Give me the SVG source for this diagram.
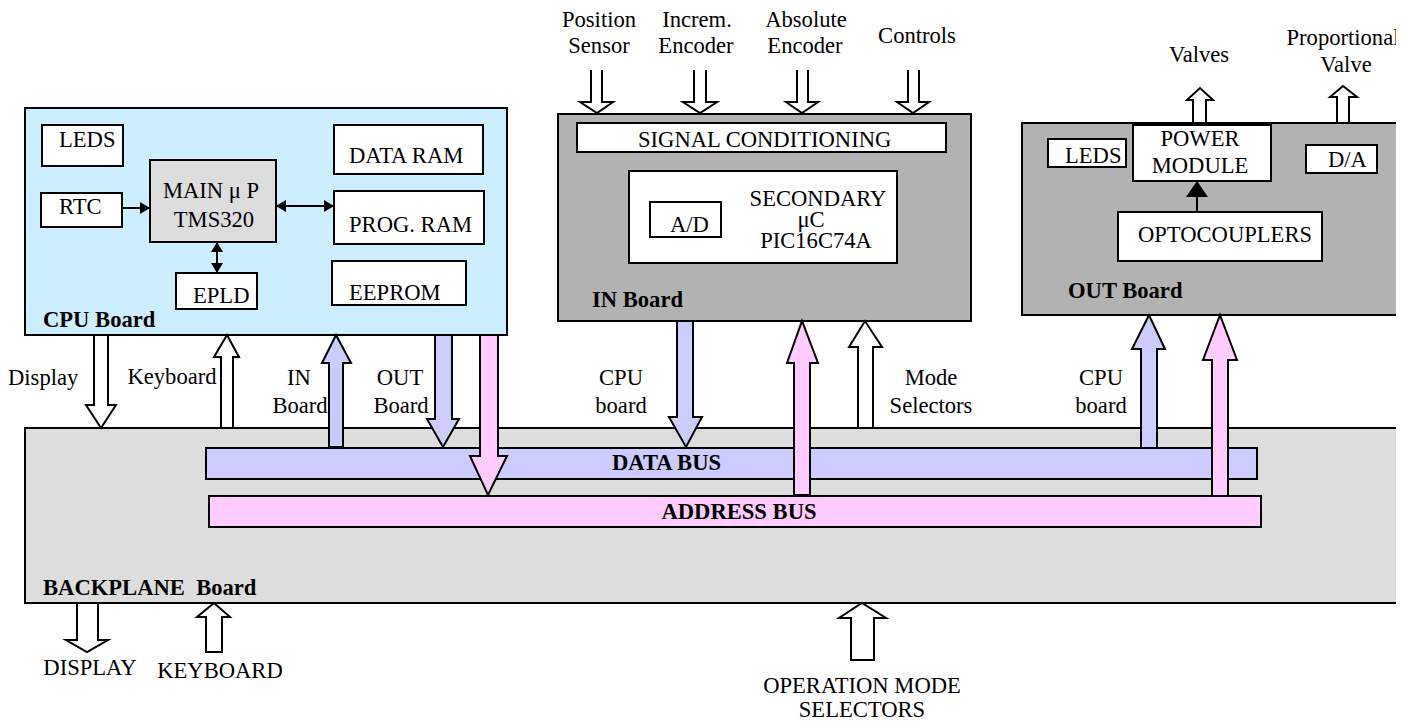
<svg xmlns="http://www.w3.org/2000/svg" width="1410" height="725" viewBox="0 0 1410 725">
<style>
text{font-family:"Liberation Serif","Times New Roman",serif;font-size:22.6px;fill:#000}
.b{font-weight:bold}
.m{text-anchor:middle}
.box{stroke:#000;stroke-width:2}
.w{fill:#fff}
.arr{stroke:#000;stroke-width:2;stroke-linejoin:miter}
.blue{fill:#ccccff}
.pink{fill:#ffccff}
.line{stroke:#000;stroke-width:2;fill:none}
</style>
<defs>
<clipPath id="clip"><rect x="0" y="0" width="1396" height="725"/></clipPath>
<marker id="ah" viewBox="0 0 10 12" refX="10" refY="6" markerWidth="10" markerHeight="12" markerUnits="userSpaceOnUse" orient="auto-start-reverse"><path d="M0,0 L10,6 L0,12 Z" fill="#000"/></marker>
<marker id="ahL" viewBox="0 0 16 22" refX="16" refY="11" markerWidth="16" markerHeight="22" markerUnits="userSpaceOnUse" orient="auto"><path d="M0,0 L16,11 L0,22 Z" fill="#000"/></marker>
</defs>
<g clip-path="url(#clip)">
<!-- Backplane -->
<g id="backplane">
<rect class="box" x="25" y="428" width="1400" height="175" fill="#dddddd"/>
<text class="b" x="43" y="595" style="white-space:pre">BACKPLANE  Board</text>
</g>
<g id="data-bus">
<rect class="box" x="206" y="448" width="1051" height="31" fill="#ccccff"/>
<text class="b" x="612" y="470">DATA BUS</text>
</g>
<g id="address-bus">
<rect class="box" x="209" y="496" width="1052" height="31" fill="#ffccff"/>
<text class="b m" x="739" y="519">ADDRESS BUS</text>
</g>
<!-- CPU Board -->
<g id="cpu-board">
<rect class="box" x="25" y="108" width="482" height="227" fill="#cceeff"/>
<text class="b" x="43" y="327">CPU Board</text>
</g>
<g id="cpu-leds"><rect class="box w" x="42" y="125" width="81" height="41"/><text x="59" y="147">LEDS</text></g>
<g id="rtc"><rect class="box w" x="41" y="193" width="81" height="34"/><text x="59" y="214">RTC</text></g>
<g id="main-up"><rect class="box" x="150" y="160" width="126" height="82" fill="#dddddd"/><text class="m" x="211" y="198">MAIN μ P</text><text class="m" x="214" y="227">TMS320</text></g>
<g id="data-ram"><rect class="box w" x="334" y="125" width="149" height="49"/><text x="349" y="163">DATA RAM</text></g>
<g id="prog-ram"><rect class="box w" x="334" y="191" width="150" height="53"/><text x="349" y="232">PROG. RAM</text></g>
<g id="eeprom"><rect class="box w" x="332" y="261" width="134" height="44"/><text x="349" y="300">EEPROM</text></g>
<g id="epld"><rect class="box w" x="176" y="273" width="81" height="36"/><text x="193" y="303">EPLD</text></g>
<!-- IN Board -->
<g id="in-board">
<rect class="box" x="558" y="114" width="413" height="207" fill="#b2b2b2"/>
<text class="b" x="592" y="307">IN Board</text>
</g>
<g id="signal-conditioning"><rect class="box w" x="577" y="123" width="369" height="29"/><text x="638" y="147">SIGNAL CONDITIONING</text></g>
<g id="secondary-uc"><rect class="box w" x="629" y="171" width="268" height="92"/>
<text class="m" x="818" y="206">SECONDARY</text><text class="m" x="811" y="227">μC</text><text class="m" x="816" y="248">PIC16C74A</text></g>
<g id="ad"><rect class="box w" x="650" y="202" width="71" height="35"/><text x="670" y="232">A/D</text></g>
<!-- OUT Board -->
<g id="out-board">
<rect class="box" x="1022" y="123" width="400" height="192" fill="#b2b2b2"/>
<text class="b" x="1068" y="298">OUT Board</text>
</g>
<g id="out-leds"><rect class="box w" x="1048" y="139" width="78" height="28"/><text x="1065" y="163">LEDS</text></g>
<g id="power-module"><rect class="box w" x="1133" y="125" width="138" height="56"/><text class="m" x="1200" y="146">POWER</text><text class="m" x="1200" y="173">MODULE</text></g>
<g id="da"><rect class="box w" x="1306" y="145" width="71" height="28"/><text x="1328" y="167">D/A</text></g>
<g id="optocouplers"><rect class="box w" x="1118" y="212" width="204" height="49"/><text class="m" x="1225" y="242">OPTOCOUPLERS</text></g>
<!-- External labels -->
<g id="labels">
<text class="m" x="599" y="27">Position</text><text class="m" x="599" y="53">Sensor</text>
<text class="m" x="697" y="27">Increm.</text><text class="m" x="696" y="53">Encoder</text>
<text class="m" x="806" y="27">Absolute</text><text class="m" x="805" y="53">Encoder</text>
<text class="m" x="917" y="43">Controls</text>
<text class="m" x="1199" y="62">Valves</text>
<text class="m" x="1343" y="45">Proportional</text><text class="m" x="1346" y="72">Valve</text>
<text x="8" y="385">Display</text>
<text class="m" x="172" y="384">Keyboard</text>
<text class="m" x="299" y="385">IN</text><text class="m" x="300" y="413">Board</text>
<text class="m" x="400" y="385">OUT</text><text class="m" x="401" y="413">Board</text>
<text class="m" x="621" y="385">CPU</text><text class="m" x="621" y="413">board</text>
<text class="m" x="931" y="385">Mode</text><text class="m" x="931" y="413">Selectors</text>
<text class="m" x="1101" y="385">CPU</text><text class="m" x="1101" y="413">board</text>
<text class="m" x="90" y="675">DISPLAY</text>
<text class="m" x="220" y="678">KEYBOARD</text>
<text class="m" x="862" y="693">OPERATION MODE</text>
<text class="m" x="862" y="717">SELECTORS</text>
</g>
<!-- Connectors -->
<g id="connectors">
<line class="line" x1="122" y1="208" x2="150" y2="208" marker-end="url(#ah)"/>
<line class="line" x1="276" y1="206" x2="334" y2="206" marker-start="url(#ah)" marker-end="url(#ah)"/>
<line class="line" x1="217" y1="242" x2="217" y2="273" marker-start="url(#ah)" marker-end="url(#ah)"/>
<line class="line" x1="1197" y1="212" x2="1197" y2="181" marker-end="url(#ahL)"/>
<!-- top input arrows (open top) -->
<path class="arr w" d="M591,70 V102 H580 L597,113 L613,102 H602 V70"/>
<path class="arr w" d="M694,70 V102 H683 L700,113 L717,102 H706 V70"/>
<path class="arr w" d="M797,70 V102 H786 L802,113 L818,102 H808 V70"/>
<path class="arr w" d="M908,70 V102 H897 L913,113 L929,102 H919 V70"/>
<!-- OUT board outputs -->
<path class="arr w" d="M1193,123 V100 H1187 L1200,88 L1213,100 H1206 V123 Z"/>
<path class="arr w" d="M1337,123 V97 H1330 L1343,86 L1357,97 H1349 V123 Z"/>
<!-- CPU to backplane -->
<path class="arr w" d="M94,335 V405 H86 L101,428 L116,405 H108 V335 Z"/>
<path class="arr w" d="M221,428 V357 H214 L227,335 L239,357 H233 V428 Z"/>
<path class="arr blue" d="M329,447 V363 H322 L336,335 L351,363 H343 V447 Z"/>
<path class="arr blue" d="M435,335 V419 H427 L443,447 L459,419 H452 V335 Z"/>
<path class="arr pink" d="M480,335 V456 H470 L488,495 L507,456 H498 V335 Z"/>
<!-- IN board -->
<path class="arr blue" d="M677,321 V417 H669 L686,447 L702,417 H693 V321 Z"/>
<path class="arr pink" d="M794,495 V363 H787 L802,321 L818,363 H810 V495 Z"/>
<path class="arr w" d="M858,428 V347 H849 L865,321 L882,347 H873 V428 Z"/>
<!-- OUT board -->
<path class="arr blue" d="M1141,448 V349 H1132 L1149,315 L1165,349 H1157 V448 Z"/>
<path class="arr pink" d="M1212,496 V360 H1203 L1220,315 L1237,360 H1228 V496 Z"/>
<!-- Backplane externals -->
<path class="arr w" d="M77,603 V640 H66 L87,652 L108,640 H98 V603 Z"/>
<path class="arr w" d="M206,652 V617 H197 L214,603 L230,617 H222 V652 Z"/>
<path class="arr w" d="M851,660 V618 H839 L862,603 L886,618 H874 V660 Z"/>
</g>
</g>
</svg>
